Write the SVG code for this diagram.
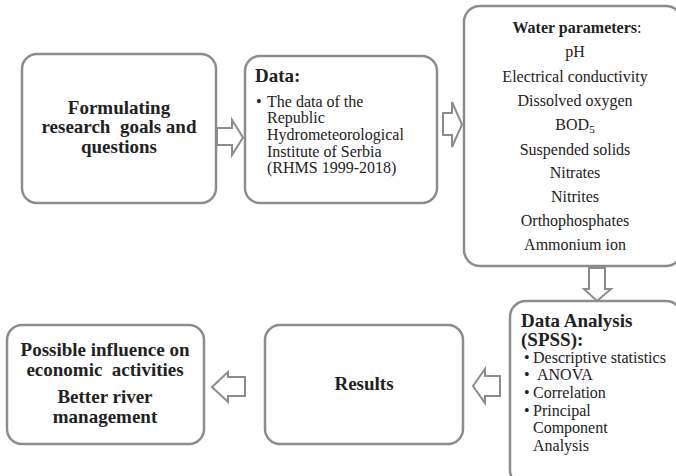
<svg xmlns="http://www.w3.org/2000/svg" width="676" height="476" viewBox="0 0 676 476">
<style>
.box{fill:#fff;stroke:#8c8c8c;stroke-width:2.5}
.arr{fill:#fff;stroke:#8c8c8c;stroke-width:2;stroke-linejoin:miter}
text{font-family:"Liberation Serif","Times New Roman",serif;fill:#222}
.b{font-weight:bold;font-size:19px}
.r{font-size:16px}
.c{text-anchor:middle}
</style>
<rect width="676" height="476" fill="#fff"/>
<g id="connectors">
<path class="arr" d="M217,128 H232 V120 L243,137.5 L232,155 V145 H217 Z"/>
<path class="arr" d="M443,113 H452 V102 L462,124.5 L452,147 V135 H443 Z"/>
<path class="arr" d="M589,268 V289 H584 L597,301 L611,289 H605 V268 Z"/>
<path class="arr" d="M500,376 H485 V369 L473,386 L485,403 V396 H500 Z"/>
<path class="arr" d="M245,377 H228 V372 L212,387 L228,402 V396 H245 Z"/>
</g>
<g id="node-goals">
<rect class="box" x="22" y="54" width="194" height="149" rx="15"/>
<text class="b c" x="119" y="114">Formulating</text>
<text class="b c" x="119" y="133" xml:space="preserve">research  goals and</text>
<text class="b c" x="119" y="153">questions</text>
</g>
<g id="node-data">
<rect class="box" x="245" y="56" width="192" height="147" rx="15"/>
<text class="b" x="255" y="82">Data:</text>
<text class="r" x="256" y="107">•</text>
<text class="r" x="267" y="107">The data of the</text>
<text class="r" x="267" y="123">Republic</text>
<text class="r" x="267" y="140">Hydrometeorological</text>
<text class="r" x="267" y="157">Institute of Serbia</text>
<text class="r" x="267" y="173">(RHMS 1999-2018)</text>
</g>
<g id="node-params">
<rect class="box" x="464" y="6" width="218" height="260" rx="16"/>
<text class="r c" x="577" y="33"><tspan font-weight="bold">Water parameters</tspan>:</text>
<text class="r c" x="575" y="57">pH</text>
<text class="r c" x="575" y="82">Electrical conductivity</text>
<text class="r c" x="575" y="106">Dissolved oxygen</text>
<text class="r c" x="575" y="130">BOD<tspan font-size="11" dy="3">5</tspan></text>
<text class="r c" x="575" y="155">Suspended solids</text>
<text class="r c" x="575" y="178">Nitrates</text>
<text class="r c" x="575" y="202">Nitrites</text>
<text class="r c" x="575" y="226">Orthophosphates</text>
<text class="r c" x="575" y="250">Ammonium ion</text>
</g>
<g id="node-analysis">
<rect class="box" x="510" y="301" width="172" height="185" rx="16"/>
<text class="b" x="521" y="327">Data Analysis</text>
<text class="b" x="521" y="346">(SPSS):</text>
<text class="r" x="524" y="363">•</text>
<text class="r" x="533" y="363">Descriptive statistics</text>
<text class="r" x="524" y="380">•</text>
<text class="r" x="537" y="380">ANOVA</text>
<text class="r" x="524" y="398">•</text>
<text class="r" x="533" y="398">Correlation</text>
<text class="r" x="524" y="416">•</text>
<text class="r" x="533" y="416">Principal</text>
<text class="r" x="533" y="433">Component</text>
<text class="r" x="533" y="451">Analysis</text>
</g>
<g id="node-results">
<rect class="box" x="265" y="325" width="198" height="119" rx="15"/>
<text class="b c" x="364" y="390">Results</text>
</g>
<g id="node-influence">
<rect class="box" x="7" y="325" width="197" height="119" rx="15"/>
<text class="b c" x="105" y="356">Possible influence on</text>
<text class="b c" x="105" y="376" xml:space="preserve">economic  activities</text>
<text class="b c" x="105" y="403">Better river</text>
<text class="b c" x="105" y="423">management</text>
</g>
</svg>
